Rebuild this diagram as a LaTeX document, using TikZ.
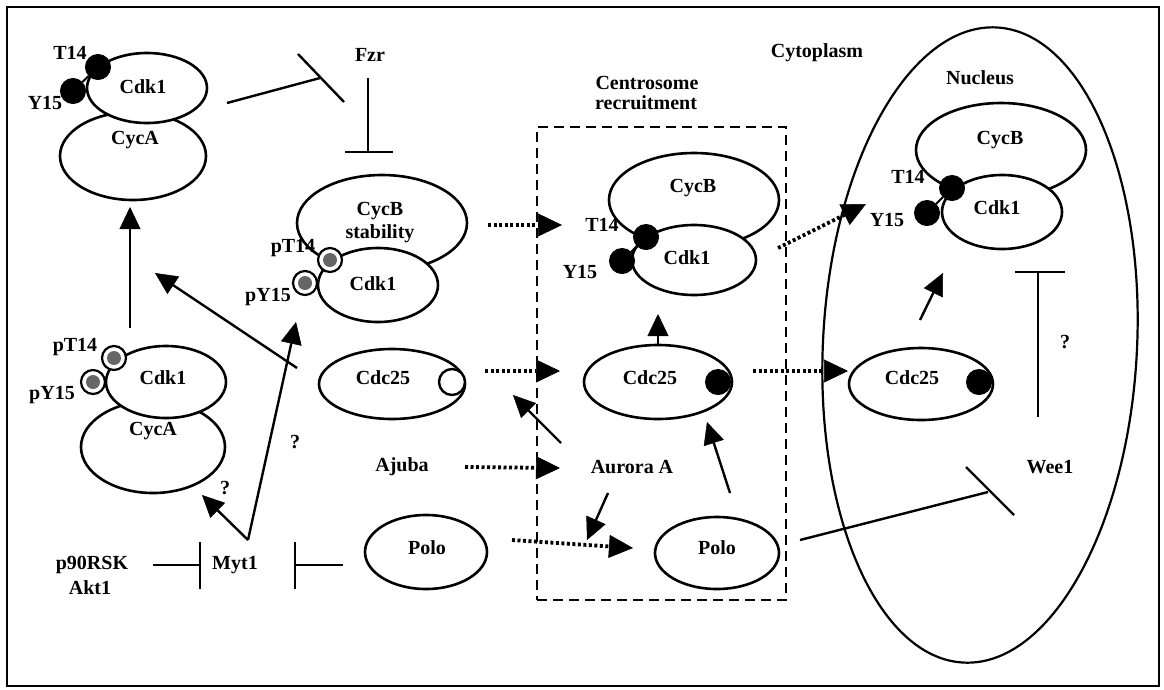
\documentclass[tikz,border=0pt]{standalone}
\usepackage{fontspec}
\setmainfont{Liberation Serif}
\usetikzlibrary{shapes.geometric,arrows.meta}
\begin{document}
\begin{tikzpicture}[x=1pt,y=-1pt,
  prot/.style={ellipse, draw, line width=2.6pt, fill=white, inner sep=0pt},
  lbl/.style={font=\bfseries\fontsize{20}{22}\selectfont, inner sep=0pt},
  phos/.style={circle, fill=black, draw=black, line width=1pt, minimum size=25pt, inner sep=0pt},
  pring/.style={circle, draw=black, line width=2.2pt, fill=white, minimum size=24pt, inner sep=0pt,
     path picture={\fill[black!60] (path picture bounding box.center) circle (7pt);}},
  pfree/.style={circle, draw=black, line width=2.4pt, fill=white, minimum size=26pt, inner sep=0pt},
  act/.style={line width=2.4pt, -{Triangle[length=22pt,width=21pt,line width=0.5pt]}},
  dotact/.style={line width=3.8pt, dash pattern=on 3pt off 2.5pt, -{Triangle[length=24pt,width=23pt,line width=0.5pt]}},
  inh/.style={line width=2.4pt},
  regionbox/.style={draw, line width=2.2pt, dash pattern=on 10pt off 6pt, inner sep=0pt},
]
\useasboundingbox (0,0) rectangle (1164,689);
\draw[line width=2.4pt] (7,7) rectangle (1159,686);

% regions
\node[draw, line width=2.2pt, ellipse, rotate=-3, minimum width=314pt, minimum height=636pt, inner sep=0pt] (nucleus) at (980,345) {};
\node[regionbox, minimum width=249pt, minimum height=473pt] (cbox) at (661.5,363.5) {};
\node[lbl] (cytolbl) at (817,53) {Cytoplasm};
\node[lbl] (centlbl1) at (647,83) {Centrosome};
\node[lbl] (centlbl2) at (646,103) {recruitment};
\node[lbl] (nuclbl) at (980,78) {Nucleus};

% top-left complex: Cdk1 / CycA (T14, Y15)
\node[prot, minimum width=146pt, minimum height=88pt] (cycAa) at (133,156) {};
\node[prot, minimum width=120pt, minimum height=70pt] (cdkA) at (147,88) {};
\node[lbl] (cdkAl) at (143,87) {Cdk1};
\node[lbl] (cycAal) at (135,140) {CycA};
\node[lbl] (t14a) at (70,53) {T14};
\node[lbl] (y15a) at (45,103) {Y15};
\node[phos] (pt14a) at (98,67) {};
\node[phos] (py15a) at (73,91) {};
\draw[line width=2pt] (pt14a) -- (py15a);

% Fzr
\node[lbl] (fzr) at (370,55) {Fzr};
\coordinate (fzrA) at (227,103);
\coordinate (fzrB) at (320,78);
\coordinate (fzrB1) at (298,54);
\coordinate (fzrB2) at (344,102);
\draw[inh] (fzrA) -- (fzrB);
\draw[inh] (fzrB1) -- (fzrB2);
\coordinate (fzrC) at (368,78);
\coordinate (fzrD) at (368,152);
\coordinate (fzrD1) at (345,152);
\coordinate (fzrD2) at (393,152);
\draw[inh] (fzrC) -- (fzrD);
\draw[inh] (fzrD1) -- (fzrD2);

% CycB stability complex
\node[prot, minimum width=170pt, minimum height=96pt] (cycBs) at (382,223) {};
\node[lbl] (cycBsl1) at (380,211) {CycB};
\node[lbl] (cycBsl2) at (380,234) {stability};
\node[prot, minimum width=120pt, minimum height=74pt] (cdkB) at (378,285) {};
\node[lbl] (cdkBl) at (373,284) {Cdk1};
\node[lbl] (pt14bl) at (293,248) {pT14};
\node[lbl] (py15bl) at (268,297) {pY15};
\node[pring] (pt14b) at (330,260) {};
\node[pring] (py15b) at (305,283) {};

% centrosome complex
\node[prot, minimum width=170pt, minimum height=94pt] (cycBc) at (694,200) {};
\node[lbl] (cycBcl) at (693,188) {CycB};
\node[prot, minimum width=124pt, minimum height=70pt] (cdkC) at (694,260) {};
\node[lbl] (cdkCl) at (687,258) {Cdk1};
\node[lbl] (t14c) at (602,225) {T14};
\node[lbl] (y15c) at (580,272) {Y15};
\node[phos] (pt14c) at (646,237) {};
\node[phos] (py15c) at (622,261) {};
\draw[line width=2pt] (pt14c) -- (py15c);

% nuclear complex
\node[prot, minimum width=170pt, minimum height=94pt] (cycBn) at (1001,150) {};
\node[lbl] (cycBnl) at (1000,140) {CycB};
\node[prot, minimum width=120pt, minimum height=74pt] (cdkN) at (1002,212) {};
\node[lbl] (cdkNl) at (997,208) {Cdk1};
\node[lbl] (t14n) at (908,177) {T14};
\node[lbl] (y15n) at (887,220) {Y15};
\node[phos] (pt14n) at (952,188) {};
\node[phos] (py15n) at (927,213) {};
\draw[line width=2pt] (pt14n) -- (py15n);

% lower-left complex: pCdk1 / CycA
\node[prot, minimum width=144pt, minimum height=92pt] (cycAb) at (153,447) {};
\node[prot, minimum width=120pt, minimum height=72pt] (cdkE) at (166,382) {};
\node[lbl] (cdkEl) at (163,378) {Cdk1};
\node[lbl] (cycAbl) at (153,431) {CycA};
\node[lbl] (pt14el) at (75,347) {pT14};
\node[lbl] (py15el) at (52,395) {pY15};
\node[pring] (pt14e) at (114,358) {};
\node[pring] (py15e) at (93,382) {};

% Cdc25
\node[prot, minimum width=146pt, minimum height=70pt] (cdc25a) at (392,384) {};
\node[lbl] (cdc25al) at (383,378) {Cdc25};
\node[pfree] (cdc25ap) at (452,382) {};
\node[prot, minimum width=148pt, minimum height=74pt] (cdc25c) at (658,382) {};
\node[lbl] (cdc25cl) at (650,378) {Cdc25};
\node[phos] (cdc25cp) at (718,382) {};
\node[prot, minimum width=144pt, minimum height=72pt] (cdc25n) at (921,384) {};
\node[lbl] (cdc25nl) at (912,378) {Cdc25};
\node[phos] (cdc25np) at (979,382) {};

% Polo, Ajuba, Aurora, Wee1, Myt1
\node[prot, minimum width=122pt, minimum height=74pt] (poloa) at (426,552) {};
\node[lbl] (poloal) at (427,548) {Polo};
\node[prot, minimum width=124pt, minimum height=72pt] (poloc) at (717,553) {};
\node[lbl] (polocl) at (717,548) {Polo};
\node[lbl] (ajuba) at (402,467) {Ajuba};
\node[lbl] (aurora) at (632,467) {Aurora A};
\node[lbl] (wee1) at (1050,467) {Wee1};
\node[lbl] (p90) at (92,565) {p90RSK};
\node[lbl] (akt1) at (90,588) {Akt1};
\node[lbl] (myt1) at (235,565) {Myt1};
\node[lbl] (q1) at (295,442) {?};
\node[lbl] (q2) at (225,488) {?};
\node[lbl] (q3) at (1065,342) {?};

% activation arrows
\coordinate (e1) at (130,328); \coordinate (e2) at (130,207);
\draw[act] (e1) -- (e2);
\coordinate (e3) at (297,368); \coordinate (e4) at (155,273);
\draw[act] (e3) -- (e4);
\coordinate (m0) at (248,540);
\coordinate (m1) at (296,322);
\coordinate (m2) at (202,495);
\draw[act] (m0) -- (m1);
\draw[act] (m0) -- (m2);
\coordinate (c1) at (658,346); \coordinate (c2) at (658,314);
\draw[act] (c1) -- (c2);
\coordinate (n1) at (920,320); \coordinate (n2) at (943,273);
\draw[act] (n1) -- (n2);
\coordinate (a1) at (561,443); \coordinate (a2) at (513,395);
\draw[act] (a1) -- (a2);
\coordinate (a3) at (608,493); \coordinate (a4) at (587,540);
\draw[act] (a3) -- (a4);
\coordinate (p1) at (730,493); \coordinate (p2) at (707,422);
\draw[act] (p1) -- (p2);

% dotted translocation arrows
\coordinate (d1) at (488,225); \coordinate (d2) at (562,225);
\draw[dotact] (d1) -- (d2);
\coordinate (d3) at (778,248); \coordinate (d4) at (866,204);
\draw[dotact] (d3) -- (d4);
\coordinate (d5) at (485,371); \coordinate (d6) at (560,371);
\draw[dotact] (d5) -- (d6);
\coordinate (d7) at (753,371); \coordinate (d8) at (848,371);
\draw[dotact] (d7) -- (d8);
\coordinate (d9) at (465,467); \coordinate (d10) at (560,468);
\draw[dotact] (d9) -- (d10);
\coordinate (d11) at (512,540); \coordinate (d12) at (633,548);
\draw[dotact] (d11) -- (d12);

% inhibitions
\coordinate (w1) at (1038,417); \coordinate (w2) at (1038,272);
\coordinate (w3) at (1015,272); \coordinate (w4) at (1065,272);
\draw[inh] (w1) -- (w2);
\draw[inh] (w3) -- (w4);
\coordinate (pw1) at (800,540); \coordinate (pw2) at (988,492);
\coordinate (pw3) at (966,467); \coordinate (pw4) at (1014,515);
\draw[inh] (pw1) -- (pw2);
\draw[inh] (pw3) -- (pw4);
\coordinate (r1) at (153,565); \coordinate (r2) at (200,565);
\coordinate (r3) at (200,542); \coordinate (r4) at (200,589);
\draw[inh] (r1) -- (r2);
\draw[inh] (r3) -- (r4);
\coordinate (s1) at (343,565); \coordinate (s2) at (295,565);
\coordinate (s3) at (295,542); \coordinate (s4) at (295,589);
\draw[inh] (s1) -- (s2);
\draw[inh] (s3) -- (s4);
\end{tikzpicture}
\end{document}
